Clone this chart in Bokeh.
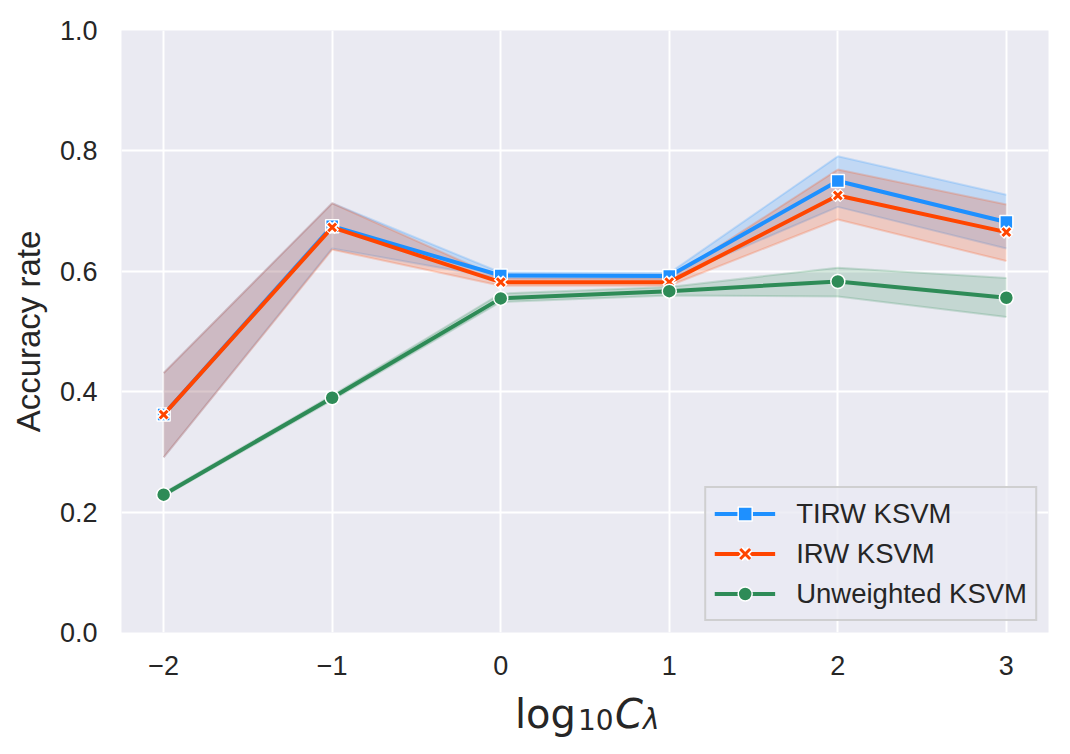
from bokeh.plotting import figure
from bokeh.layouts import column
from bokeh.models import Range1d, FixedTicker, PrintfTickFormatter, Legend, LegendItem
from bokeh.core.properties import value
from bokeh.embed import file_html
from bokeh.resources import INLINE

# ---- data ----
x_vals = [-2, -1, 0, 1, 2, 3]
x_tick_labels = {-2: "\u22122", -1: "\u22121", 0: "0", 1: "1", 2: "2", 3: "3"}
y_ticks = [0.0, 0.2, 0.4, 0.6, 0.8, 1.0]

tirw_mean = [0.362, 0.675, 0.593, 0.592, 0.750, 0.682]
tirw_low = [0.291, 0.638, 0.588, 0.587, 0.707, 0.638]
tirw_high = [0.431, 0.713, 0.598, 0.597, 0.791, 0.727]

irw_mean = [0.362, 0.673, 0.582, 0.582, 0.726, 0.665]
irw_low = [0.291, 0.636, 0.576, 0.576, 0.686, 0.617]
irw_high = [0.431, 0.713, 0.588, 0.588, 0.769, 0.711]

unw_mean = [0.229, 0.390, 0.555, 0.567, 0.583, 0.556]
unw_low = [0.226, 0.386, 0.549, 0.560, 0.558, 0.524]
unw_high = [0.232, 0.394, 0.563, 0.574, 0.606, 0.589]

names = ["TIRW KSVM", "IRW KSVM", "Unweighted KSVM"]
colors = ["#1E90FF", "#FF4500", "#2E8B57"]
x_label_parts = ["log", "10", "C", "\u03bb"]

BG = "#EAEAF2"
TXT = "#262626"
FONT = "Liberation Sans"
X0, X1 = -2.25, 3.25

p = figure(width=1062, height=692, output_backend="svg", toolbar_location=None,
           x_range=Range1d(X0, X1), y_range=Range1d(0, 1),
           min_border_left=121, min_border_right=14, min_border_top=30, min_border_bottom=60)
p.background_fill_color = BG
p.border_fill_color = "white"
p.outline_line_color = None

for ax in (p.xaxis[0], p.yaxis[0]):
    ax.axis_line_color = None
    ax.major_tick_line_color = None
    ax.minor_tick_line_color = None
    ax.major_tick_out = 0
    ax.major_tick_in = 0
    ax.minor_tick_out = 0
    ax.major_label_text_font = FONT
    ax.major_label_text_font_size = "27px"
    ax.major_label_text_color = TXT

p.xaxis.ticker = FixedTicker(ticks=x_vals)
p.xaxis.major_label_overrides = x_tick_labels
p.xaxis.major_label_standoff = 23
p.yaxis.ticker = FixedTicker(ticks=y_ticks)
p.yaxis.formatter = PrintfTickFormatter(format="%.1f")
p.yaxis.major_label_standoff = 24
p.yaxis.axis_label = "Accuracy rate"
p.yaxis.axis_label_text_font = FONT
p.yaxis.axis_label_text_font_size = "33px"
p.yaxis.axis_label_text_font_style = "normal"
p.yaxis.axis_label_text_color = TXT
p.yaxis.axis_label_standoff = 10

p.xgrid.grid_line_color = "white"
p.ygrid.grid_line_color = "white"
p.xgrid.grid_line_width = 2
p.ygrid.grid_line_width = 2

series = [(tirw_mean, tirw_low, tirw_high), (irw_mean, irw_low, irw_high), (unw_mean, unw_low, unw_high)]

# bands first (below all lines)
for (m, lo, hi), c in zip(series, colors):
    p.varea(x=x_vals, y1=lo, y2=hi, fill_color=c, fill_alpha=0.2)
    p.line(x_vals, lo, line_color=c, line_alpha=0.2, line_width=2)
    p.line(x_vals, hi, line_color=c, line_alpha=0.2, line_width=2)

items = []
l1 = p.line(x_vals, tirw_mean, line_color=colors[0], line_width=4)
m1 = p.scatter(x_vals, tirw_mean, marker="square", size=13, fill_color=colors[0],
               line_color="white", line_width=1.5)
items.append(LegendItem(label=names[0], renderers=[l1, m1]))
l2 = p.line(x_vals, irw_mean, line_color=colors[1], line_width=4)
m2a = p.scatter(x_vals, irw_mean, marker="x", size=13, line_color="white", line_width=6.5)
m2b = p.scatter(x_vals, irw_mean, marker="x", size=11, line_color=colors[1], line_width=3)
items.append(LegendItem(label=names[1], renderers=[l2, m2a, m2b]))
l3 = p.line(x_vals, unw_mean, line_color=colors[2], line_width=4)
m3 = p.scatter(x_vals, unw_mean, marker="circle", size=14, fill_color=colors[2],
               line_color="white", line_width=1.5)
items.append(LegendItem(label=names[2], renderers=[l3, m3]))

legend = Legend(items=items, location="bottom_right", margin=11,
                padding=8, spacing=5, glyph_width=61, glyph_height=35,
                label_height=35, label_standoff=21,
                label_text_font=FONT, label_text_font_size="27.5px", label_text_color=TXT,
                background_fill_color=BG, background_fill_alpha=0.8,
                border_line_color="#cccccc", border_line_width=2, border_line_alpha=0.9)
p.add_layout(legend, "center")

# x-axis label strip: log_10 C_lambda composed from text pieces
q = figure(width=1062, height=54, output_backend="svg", toolbar_location=None,
           x_range=Range1d(X0, X1), y_range=Range1d(0, 54),
           min_border_left=121, min_border_right=14, min_border_top=0, min_border_bottom=0)
q.axis.visible = False
q.grid.visible = False
q.outline_line_color = None
q.background_fill_color = "white"
q.border_fill_color = "white"

xc = (X0 + X1) / 2
base_y, sub_y = 33, 27
pieces = [
    (x_label_parts[0], base_y, -70, "40px", "normal"),
    (x_label_parts[1], sub_y, -7, "28px", "normal"),
    (x_label_parts[2], base_y, 30, "40px", "italic"),
    (x_label_parts[3], sub_y, 58, "28px", "italic"),
]
for txt, yy, xo, fs, st in pieces:
    q.text(x=[xc], y=[yy], text=[txt], x_offset=xo, text_font=value("DejaVu Sans"),
           text_font_size=value(fs), text_font_style=st, text_color=TXT,
           text_align="left", text_baseline="alphabetic")

layout = column(p, q, spacing=0)
open("out.html", "w").write(file_html(layout, INLINE))
